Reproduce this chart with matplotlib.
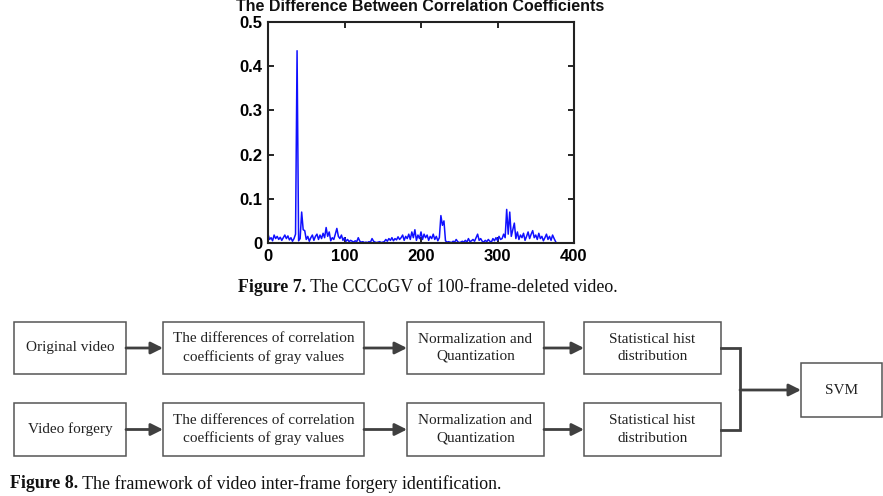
import matplotlib
matplotlib.use("Agg")
import matplotlib.pyplot as plt
from matplotlib.patches import Rectangle
from matplotlib.ticker import FuncFormatter

# ---------------- data ----------------
frame_step = 2
diff_values = [
    0.020, 0.008, 0.012, 0.005, 0.018, 0.010, 0.015, 0.008, 0.013, 0.006,
    0.012, 0.018, 0.010, 0.016, 0.007, 0.012, 0.004, 0.010, 0.020, 0.435,
    0.005, 0.010, 0.070, 0.030, 0.028, 0.008, 0.015, 0.004, 0.012, 0.018,
    0.006, 0.015, 0.020, 0.008, 0.018, 0.010, 0.022, 0.012, 0.035, 0.015,
    0.025, 0.005, 0.012, 0.008, 0.020, 0.033, 0.015, 0.010, 0.018, 0.006,
    0.012, 0.004, 0.008, 0.003, 0.006, 0.004, 0.002, 0.005, 0.003, 0.012,
    0.004, 0.002, 0.003, 0.001, 0.002, 0.001, 0.003, 0.002, 0.010, 0.004,
    0.002, 0.001, 0.002, 0.003, 0.001, 0.002, 0.003, 0.008, 0.004, 0.010,
    0.006, 0.012, 0.005, 0.010, 0.007, 0.014, 0.008, 0.012, 0.018, 0.006,
    0.015, 0.010, 0.020, 0.008, 0.025, 0.012, 0.030, 0.006, 0.018, 0.010,
    0.025, 0.008, 0.020, 0.012, 0.018, 0.006, 0.015, 0.010, 0.020, 0.008,
    0.015, 0.005, 0.012, 0.062, 0.040, 0.050, 0.005, 0.002, 0.003, 0.002,
    0.001, 0.004, 0.002, 0.008, 0.003, 0.001, 0.002, 0.004, 0.002, 0.006,
    0.002, 0.010, 0.003, 0.005, 0.008, 0.004, 0.012, 0.020, 0.006, 0.010,
    0.004, 0.002, 0.006, 0.003, 0.008, 0.004, 0.002, 0.010, 0.005, 0.012,
    0.006, 0.015, 0.008, 0.010, 0.020, 0.012, 0.076, 0.020, 0.070, 0.015,
    0.030, 0.045, 0.010, 0.025, 0.008, 0.018, 0.012, 0.022, 0.006, 0.015,
    0.025, 0.010, 0.020, 0.028, 0.012, 0.018, 0.008, 0.022, 0.010, 0.015,
    0.005, 0.012, 0.020, 0.008, 0.015, 0.006, 0.018, 0.010, 0.003,
]
frames = [i * frame_step for i in range(len(diff_values))]
x_ticks = [0, 100, 200, 300, 400]
y_ticks = [0, 0.1, 0.2, 0.3, 0.4, 0.5]

chart_title = "The Difference Between Correlation Coefficients"
caption7_bold = "Figure 7."
caption7_rest = " The CCCoGV of 100-frame-deleted video."
caption8_bold = "Figure 8."
caption8_rest = " The framework of video inter-frame forgery identification."

row_labels = [
    ["Original video", "The differences of correlation\ncoefficients of gray values",
     "Normalization and\nQuantization", "Statistical hist\ndistribution"],
    ["Video forgery", "The differences of correlation\ncoefficients of gray values",
     "Normalization and\nQuantization", "Statistical hist\ndistribution"],
]
final_label = "SVM"

# ---------------- figure ----------------
W, H = 883, 496
fig = plt.figure(figsize=(W / 100, H / 100), dpi=100)
fig.patch.set_facecolor("white")

sans = ["Liberation Sans", "DejaVu Sans"]
serif = ["Liberation Serif", "DejaVu Serif"]

ax = fig.add_axes([268 / W, 1 - 243 / H, (574 - 268) / W, (243 - 22) / H])
ax.plot(frames, diff_values, color="#1010ff", lw=1.1)
ax.set_xlim(0, 400)
ax.set_ylim(0, 0.5)
ax.set_xticks(x_ticks)
ax.set_yticks(y_ticks)
ax.yaxis.set_major_formatter(FuncFormatter(lambda v, p: "0" if v == 0 else f"{v:g}"))
ax.tick_params(direction="in", top=True, right=True, length=4, width=1.2,
               labelsize=12, pad=4)
for lab in ax.get_xticklabels() + ax.get_yticklabels():
    lab.set_fontfamily(sans)
    lab.set_fontweight("bold")
for s in ax.spines.values():
    s.set_linewidth(1.5)
    s.set_color("#222222")

fig.text(420 / W, 1 - 6.5 / H, chart_title, ha="center", va="center",
         fontsize=11.5, fontweight="bold", family=sans, color="#111111")

# overlay axes in pixel coordinates
ov = fig.add_axes([0, 0, 1, 1])
ov.set_xlim(0, W)
ov.set_ylim(H, 0)
ov.axis("off")

renderer = fig.canvas.get_renderer()


def caption(x, y, bold, rest, ha, size):
    t1 = ov.text(x, y, bold, fontsize=size, fontweight="bold", family=serif,
                 va="center", ha="left", color="#111111")
    t2 = ov.text(x, y, rest, fontsize=size, family=serif,
                 va="center", ha="left", color="#111111")
    b1 = t1.get_window_extent(renderer)
    b2 = t2.get_window_extent(renderer)
    total = b1.width + b2.width
    start = x - total / 2 if ha == "center" else x
    t1.set_x(start)
    t2.set_x(start + b1.width)


caption(428, 288, caption7_bold, caption7_rest, "center", 12.9)
caption(10, 484, caption8_bold, caption8_rest, "left", 12.9)

# flowchart
col_x = [(14, 126), (163, 364), (407, 544), (584, 721)]
row_y = [(322, 374), (403, 456)]
edge = "#555555"
arrow_c = "#404040"

for r, (y0, y1) in enumerate(row_y):
    ym = (y0 + y1) / 2
    for c, (x0, x1) in enumerate(col_x):
        ov.add_patch(Rectangle((x0, y0), x1 - x0, y1 - y0, fill=False,
                               edgecolor=edge, lw=1.1))
        ov.text((x0 + x1) / 2, ym, row_labels[r][c], ha="center", va="center",
                fontsize=11, family=serif, color="#222222", linespacing=1.4)
        if c < len(col_x) - 1:
            ov.annotate("", xy=(col_x[c + 1][0], ym), xytext=(x1, ym),
                        arrowprops=dict(arrowstyle="-|>", color=arrow_c, lw=2,
                                        mutation_scale=18, shrinkA=0, shrinkB=0))

# merge connector and SVM
svm_x0, svm_x1, svm_y0, svm_y1 = 801, 883, 363, 417
join_x = 740
ym_top = sum(row_y[0]) / 2
ym_bot = sum(row_y[1]) / 2
ov.plot([col_x[3][1], join_x, join_x, col_x[3][1]], [ym_top, ym_top, ym_bot, ym_bot],
        color=arrow_c, lw=2, solid_joinstyle="miter")
svm_ym = (svm_y0 + svm_y1) / 2
ov.annotate("", xy=(svm_x0, svm_ym), xytext=(join_x, svm_ym),
            arrowprops=dict(arrowstyle="-|>", color=arrow_c, lw=2,
                            mutation_scale=18, shrinkA=0, shrinkB=0))
ov.add_patch(Rectangle((svm_x0, svm_y0), svm_x1 - svm_x0 - 1, svm_y1 - svm_y0,
                       fill=False, edgecolor=edge, lw=1.1, clip_on=False))
ov.text((svm_x0 + svm_x1) / 2, svm_ym, final_label, ha="center", va="center",
        fontsize=11, family=serif, color="#222222")

fig.savefig("out.png", dpi=100, facecolor="white")
